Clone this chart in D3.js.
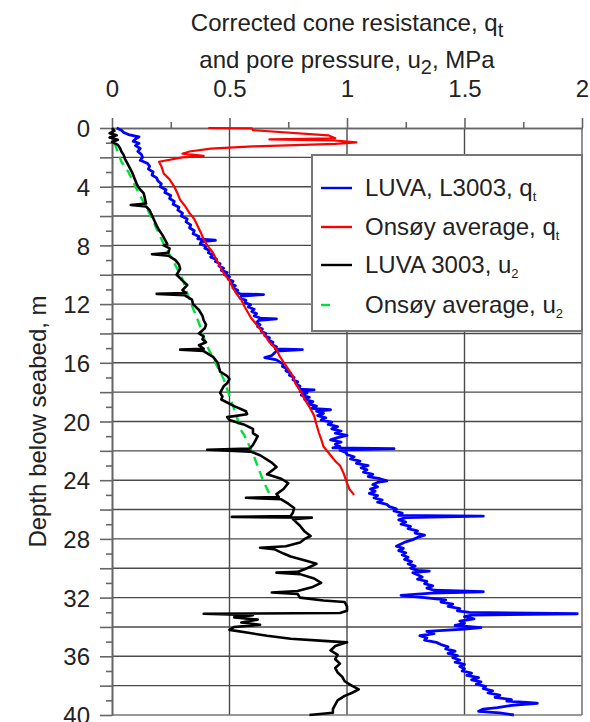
<!DOCTYPE html>
<html>
<head>
<meta charset="utf-8">
<script src="https://cdn.jsdelivr.net/npm/d3@7"></script>
<style>
html,body{margin:0;padding:0;background:#fff;}
svg{display:block;font-family:"Liberation Sans",Arial,sans-serif;}
</style>
</head>
<body>
<svg id="chart" width="590" height="722"></svg>
<script>
// ---------- data (depth in m, value in MPa) ----------
const xTicks = [0, 0.5, 1, 1.5, 2];
const xMinorTicks = [0.25, 0.75, 1.25, 1.75];
const yLabelTicks = [0, 4, 8, 12, 16, 20, 24, 28, 32, 36, 40];

const seriesNames = ["LUVA, L3003, q", "Onsøy average, q", "LUVA 3003, u", "Onsøy average, u"];
const seriesSubs = ["t", "t", "2", "2"];
const seriesColors = ["#0000ff", "#ff0000", "#000000", "#00e03c"];

// LUVA, L3003, qt : [depth, qt]
const luvaQtPoints = [
[0.0,0.02],[0.15,0.04],[0.3,0.05],[0.45,0.07],[0.6,0.115],[0.75,0.1],[0.9,0.09],[1.05,0.115],[1.2,0.1],[1.4,0.12],[1.6,0.11],[1.8,0.125],[2.0,0.13],[2.2,0.12],[2.4,0.15],[2.6,0.16],[2.8,0.155],[3.0,0.175],[3.2,0.17],[3.4,0.19],[3.6,0.195],[3.8,0.21],[4.0,0.205],[4.2,0.23],[4.4,0.225],[4.6,0.25],[4.8,0.245],[5.0,0.265],[5.2,0.26],[5.4,0.285],[5.6,0.28],[5.8,0.3],[6.0,0.295],[6.2,0.32],[6.4,0.315],[6.6,0.335],[6.8,0.33],[7.0,0.35],[7.2,0.345],[7.4,0.37],[7.55,0.365],[7.65,0.44],[7.75,0.38],[7.9,0.375],[8.05,0.4],[8.2,0.395],[8.35,0.415],[8.5,0.41],[8.65,0.43],[8.8,0.42],[8.95,0.445],[9.1,0.44],[9.25,0.46],[9.4,0.455],[9.55,0.475],[9.7,0.465],[9.85,0.49],[10.0,0.48],[10.15,0.5],[10.3,0.495],[10.45,0.515],[10.6,0.505],[10.75,0.525],[10.9,0.515],[11.05,0.535],[11.2,0.53],[11.3,0.545],[11.35,0.645],[11.45,0.55],[11.6,0.545],[11.75,0.57],[11.9,0.565],[12.05,0.59],[12.2,0.58],[12.35,0.605],[12.5,0.595],[12.65,0.615],[12.8,0.605],[12.95,0.63],[13.0,0.7],[13.1,0.625],[13.25,0.615],[13.4,0.63],[13.55,0.62],[13.7,0.64],[13.85,0.635],[14.0,0.655],[14.15,0.65],[14.3,0.67],[14.45,0.665],[14.6,0.685],[14.75,0.68],[14.9,0.7],[15.05,0.695],[15.1,0.81],[15.2,0.7],[15.35,0.69],[15.5,0.68],[15.65,0.65],[15.8,0.7],[15.95,0.715],[16.1,0.73],[16.25,0.725],[16.4,0.745],[16.55,0.74],[16.7,0.76],[16.85,0.755],[17.0,0.775],[17.15,0.77],[17.3,0.79],[17.45,0.785],[17.6,0.8],[17.7,0.795],
[17.8,0.8],[17.85,0.86],[17.95,0.8],[18.05,0.83],[18.2,0.805],[18.35,0.84],[18.5,0.82],[18.65,0.855],[18.8,0.835],[18.95,0.87],[19.1,0.85],[19.2,0.93],[19.3,0.87],[19.45,0.9],[19.6,0.875],[19.75,0.91],[19.9,0.89],[20.05,0.935],[20.2,0.92],[20.35,0.96],[20.5,0.935],[20.65,0.975],[20.8,0.95],[20.95,1.0],[21.1,0.96],[21.25,0.93],[21.4,0.975],[21.55,0.95],[21.7,0.97],[21.8,0.94],[21.85,1.2],[21.95,0.97],[22.1,0.995],[22.25,1.0],[22.4,1.03],[22.55,1.015],[22.7,1.055],[22.85,1.04],[23.0,1.09],[23.15,1.06],[23.3,1.085],[23.45,1.07],[23.6,1.11],[23.75,1.09],[23.9,1.14],[24.05,1.17],[24.15,1.13],[24.3,1.11],[24.45,1.13],[24.6,1.1],[24.75,1.12],[24.9,1.095],[25.05,1.13],[25.2,1.115],[25.35,1.15],[25.5,1.13],[25.65,1.17],[25.8,1.18],[25.95,1.21],[26.1,1.2],[26.25,1.235],[26.4,1.22],[26.45,1.58],[26.55,1.25],[26.7,1.22],[26.85,1.25],[27.0,1.23],[27.15,1.27],[27.3,1.26],[27.45,1.3],[27.6,1.29],[27.75,1.33],[27.9,1.3],[28.05,1.28],[28.2,1.25],[28.35,1.23],[28.5,1.21],[28.65,1.24],[28.8,1.22],[28.95,1.25],[29.1,1.235],[29.25,1.26],[29.4,1.245],[29.55,1.275],[29.7,1.26],[29.85,1.29],[30.0,1.27],[30.15,1.3],[30.2,1.35],[30.3,1.28],[30.45,1.3],[30.6,1.32],[30.75,1.3],[30.9,1.34],[31.05,1.33],[31.2,1.365],[31.35,1.34],[31.5,1.37],[31.6,1.58],[31.7,1.36],[31.85,1.23],[32.0,1.33],[32.15,1.42],[32.3,1.4],[32.45,1.45],[32.6,1.43],[32.75,1.48],[32.9,1.47],[33.0,1.52],[33.1,1.98],[33.2,1.53],[33.3,1.5],[33.45,1.54],[33.6,1.48],[33.75,1.5],[33.9,1.46],[34.05,1.57],[34.15,1.5],[34.3,1.34],[34.45,1.37],[34.6,1.31],[34.75,1.34],[34.9,1.33],[35.05,1.38],[35.2,1.4],[35.35,1.43],[35.5,1.42],[35.65,1.46],[35.8,1.43],[35.95,1.47],[36.1,1.45],[36.25,1.48],[36.4,1.46],[36.55,1.5],[36.7,1.48],[36.85,1.5],[37.0,1.49],[37.15,1.53],[37.3,1.51],[37.45,1.56],[37.6,1.53],[37.75,1.57],[37.9,1.55],[38.05,1.59],[38.2,1.58],[38.35,1.62],[38.5,1.6],[38.65,1.65],[38.8,1.63],[38.95,1.7],[39.05,1.68],[39.2,1.81],[39.35,1.7],[39.5,1.64],[39.6,1.58],[39.75,1.56],[39.85,1.65],[40.0,1.71]
];

const onsoyQtDepth = [0.0,0.02,0.15,0.5,0.7,0.78,0.85,0.98,1.08,1.25,1.4,1.6,1.75,1.9,2.0,2.3,2.6,3.1,3.5,4.0,4.5,4.9,5.3,5.8,6.2,6.7,7.2,7.6,8.0,8.5,9.0,9.45,10.0,10.4,10.9,11.3,11.7,12.2,12.9,13.5,14.0,14.6,15.1,15.6,16.2,16.9,17.4,18.0,18.5,19.0,19.6,20.2,20.75,21.2,21.7,22.3,22.7,23.0,23.5,24.2,24.6,25.0];
const onsoyQt = [0.41,0.595,0.6,0.92,0.95,0.67,0.95,1.04,0.95,0.6,0.42,0.33,0.3,0.39,0.3,0.2,0.21,0.22,0.245,0.265,0.28,0.29,0.31,0.33,0.35,0.365,0.38,0.39,0.405,0.43,0.445,0.46,0.48,0.5,0.515,0.53,0.55,0.565,0.59,0.62,0.645,0.67,0.7,0.715,0.74,0.77,0.78,0.805,0.82,0.84,0.86,0.87,0.88,0.89,0.9,0.93,0.95,0.97,0.985,1.0,1.01,1.03];

const luvaU2Depth = [0.0,0.2,0.35,0.5,0.65,0.8,0.95,1.15,1.4,1.6,1.85,2.1,2.4,2.7,3.0,3.4,3.8,4.1,4.45,4.8,5.15,5.25,5.35,5.6,5.95,6.3,6.65,6.95,7.3,7.6,7.9,8.0,8.2,8.5,8.6,8.7,9.0,9.3,9.6,10.0,10.4,10.7,11.05,11.25,11.3,11.4,11.7,12.0,12.4,12.8,13.1,13.4,13.65,14.0,14.2,14.4,14.6,14.8,15.05,15.1,15.2,15.6,16.0,16.3,16.6,16.9,17.1,17.4,17.6,18.05,18.3,18.5,18.95,19.3,19.5,19.7,19.9,20.2,20.5,20.8,21.0,21.3,21.6,21.85,21.93,22.05,22.3,22.8,23.1,23.35,23.6,23.9,24.2,24.6,24.95,25.15,25.2,25.3,25.6,25.9,26.2,26.45,26.5,26.55,26.65,27.1,27.5,27.8,28.0,28.25,28.5,28.6,28.7,29.0,29.2,29.5,29.7,30.0,30.25,30.3,30.4,30.7,31.0,31.3,31.55,31.65,31.75,32.0,32.2,32.3,32.6,32.9,33.05,33.1,33.2,33.35,33.5,33.7,33.85,34.0,34.2,34.4,34.6,34.8,34.95,35.05,35.3,35.6,35.9,36.2,36.5,36.8,37.1,37.4,37.7,38.0,38.25,38.5,38.7,39.0,39.3,39.6,39.85,40.0];
const luvaU2 = [0.0,0.01,-0.01,0.02,-0.01,0.025,0.0,0.025,0.035,0.04,0.05,0.055,0.065,0.075,0.085,0.095,0.105,0.115,0.135,0.14,0.145,0.08,0.145,0.16,0.17,0.18,0.19,0.2,0.215,0.225,0.235,0.22,0.245,0.24,0.17,0.24,0.27,0.285,0.29,0.275,0.3,0.32,0.3,0.315,0.19,0.31,0.34,0.345,0.37,0.385,0.39,0.4,0.395,0.37,0.39,0.385,0.4,0.37,0.39,0.29,0.39,0.43,0.45,0.455,0.46,0.49,0.5,0.49,0.475,0.46,0.47,0.465,0.52,0.57,0.575,0.49,0.5,0.56,0.6,0.6,0.62,0.61,0.6,0.585,0.405,0.59,0.63,0.68,0.7,0.68,0.66,0.72,0.75,0.73,0.7,0.71,0.57,0.72,0.75,0.775,0.77,0.76,0.51,0.85,0.77,0.8,0.82,0.845,0.82,0.8,0.74,0.63,0.69,0.73,0.76,0.83,0.87,0.83,0.79,0.7,0.8,0.86,0.89,0.85,0.79,0.68,0.79,0.8,0.9,0.99,1.0,1.0,0.97,0.39,0.6,0.52,0.62,0.55,0.63,0.52,0.5,0.58,0.66,0.76,0.9,1.0,0.95,0.93,0.96,0.95,0.97,0.95,0.96,0.98,0.99,1.02,1.05,1.02,0.99,0.96,0.95,0.94,0.94,0.84];

const onsoyU2Depth = [0.0,1.0,2.3,3.0,4.0,6.0,7.9,9.2,10.3,11.7,13.3,14.7,16.0,17.1,18.5,19.6,20.5,21.0,22.2,23.9,24.95];
const onsoyU2 = [0.0,0.01,0.04,0.07,0.1,0.165,0.22,0.265,0.3,0.33,0.37,0.4,0.44,0.475,0.505,0.53,0.545,0.565,0.6,0.64,0.67];

// ---------- layout ----------
const plotL = 112, plotR = 582, plotT = 128, plotB = 715;
const gridColor = "#4a4a4a";
const FONT = 24;

const svg = d3.select("#chart");
const x = d3.scaleLinear().domain([0, 2]).range([plotL, plotR]);
const y = d3.scaleLinear().domain([0, 40]).range([plotT, plotB]);

// grid
const g = svg.append("g");
g.selectAll("line.hg").data(d3.range(2, 40, 2)).join("line")
  .attr("x1", plotL).attr("x2", plotR)
  .attr("y1", d => y(d)).attr("y2", d => y(d))
  .attr("stroke", gridColor).attr("stroke-width", 1.4);
g.selectAll("line.vg").data(xTicks.slice(1, -1)).join("line")
  .attr("x1", d => x(d)).attr("x2", d => x(d))
  .attr("y1", plotT).attr("y2", plotB)
  .attr("stroke", gridColor).attr("stroke-width", 1.4);
g.append("line").attr("x1", plotR).attr("x2", plotR).attr("y1", plotT).attr("y2", plotB)
  .attr("stroke", "#777").attr("stroke-width", 1.6);
g.append("line").attr("x1", plotL).attr("x2", plotR).attr("y1", plotB).attr("y2", plotB)
  .attr("stroke", "#777").attr("stroke-width", 1.6);

// axes
function styleAxis(sel) {
  sel.select(".domain").attr("stroke", "#666").attr("stroke-width", 1.6);
  sel.selectAll(".tick line").attr("stroke", "#666").attr("stroke-width", 1.6);
  sel.selectAll(".tick text").attr("fill", "#222").attr("font-size", FONT)
    .attr("font-family", "'Liberation Sans', Arial, sans-serif");
}
const xAxis = svg.append("g").attr("transform", `translate(0,${plotT})`)
  .call(d3.axisTop(x).tickValues(xTicks).tickSize(10).tickPadding(21).tickFormat(d => String(d)).tickSizeOuter(0));
styleAxis(xAxis);
const xAxisMinor = svg.append("g").attr("transform", `translate(0,${plotT})`)
  .call(d3.axisTop(x).tickValues(xMinorTicks).tickSize(6).tickFormat("").tickSizeOuter(0));
styleAxis(xAxisMinor);

const yAxis = svg.append("g").attr("transform", `translate(${plotL},0)`)
  .call(d3.axisLeft(y).tickValues(d3.range(0, 41, 2)).tickSize(12).tickPadding(10)
    .tickFormat(d => yLabelTicks.includes(d) ? String(d) : "").tickSizeOuter(0));
styleAxis(yAxis);
yAxis.selectAll(".tick text").attr("dy", "0.36em");
const yAxisMinor = svg.append("g").attr("transform", `translate(${plotL},0)`)
  .call(d3.axisLeft(y).tickValues(d3.range(1, 40, 2)).tickSize(6).tickFormat("").tickSizeOuter(0));
styleAxis(yAxisMinor);

// series
const line = d3.line().x(d => x(d[1])).y(d => y(d[0]));
const zipped = (ds, vs) => ds.map((d, i) => [d, vs[i]]);
const series = [
  {data: luvaQtPoints, color: seriesColors[0], w: 2.8, dash: null},
  {data: zipped(onsoyQtDepth, onsoyQt), color: seriesColors[1], w: 2.2, dash: null},
  {data: zipped(onsoyU2Depth, onsoyU2), color: seriesColors[3], w: 2.4, dash: "9,6"},
  {data: zipped(luvaU2Depth, luvaU2), color: seriesColors[2], w: 2.6, dash: null}
];
svg.append("g").selectAll("path").data(series).join("path")
  .attr("d", d => line(d.data))
  .attr("fill", "none")
  .attr("stroke", d => d.color)
  .attr("stroke-width", d => d.w)
  .attr("stroke-linejoin", "round")
  .attr("stroke-dasharray", d => d.dash);

// titles
const title = svg.append("g").attr("font-size", FONT).attr("fill", "#222").attr("text-anchor", "middle");
const t1 = title.append("text").attr("x", (plotL + plotR) / 2).attr("y", 31);
t1.append("tspan").text("Corrected cone resistance, q");
t1.append("tspan").attr("dy", 6).attr("font-size", 20).text("t");
const t2 = title.append("text").attr("x", (plotL + plotR) / 2).attr("y", 68);
t2.append("tspan").text("and pore pressure, u");
t2.append("tspan").attr("dy", 6).attr("font-size", 20).text("2");
t2.append("tspan").attr("dy", -6).text(", MPa");

svg.append("text").attr("transform", `translate(46,${(plotT + plotB) / 2}) rotate(-90)`)
  .attr("text-anchor", "middle").attr("font-size", FONT).attr("fill", "#222")
  .text("Depth below seabed, m");

// legend
const lg = svg.append("g");
lg.append("rect").attr("x", 312).attr("y", 155).attr("width", 270).attr("height", 176)
  .attr("fill", "#fff").attr("stroke", "#777").attr("stroke-width", 2);
const rowY = [188, 227, 265, 305];
seriesNames.forEach((name, i) => {
  lg.append("line").attr("x1", 321).attr("x2", 352).attr("y1", rowY[i]).attr("y2", rowY[i])
    .attr("stroke", seriesColors[i]).attr("stroke-width", 2.4)
    .attr("stroke-dasharray", i === 3 ? "9,40" : null);
  const t = lg.append("text").attr("x", 365).attr("y", rowY[i] + 8).attr("font-size", FONT).attr("fill", "#222");
  t.append("tspan").text(name);
  t.append("tspan").attr("dy", 5).attr("font-size", 13).text(seriesSubs[i]);
});
</script>
</body>
</html>
